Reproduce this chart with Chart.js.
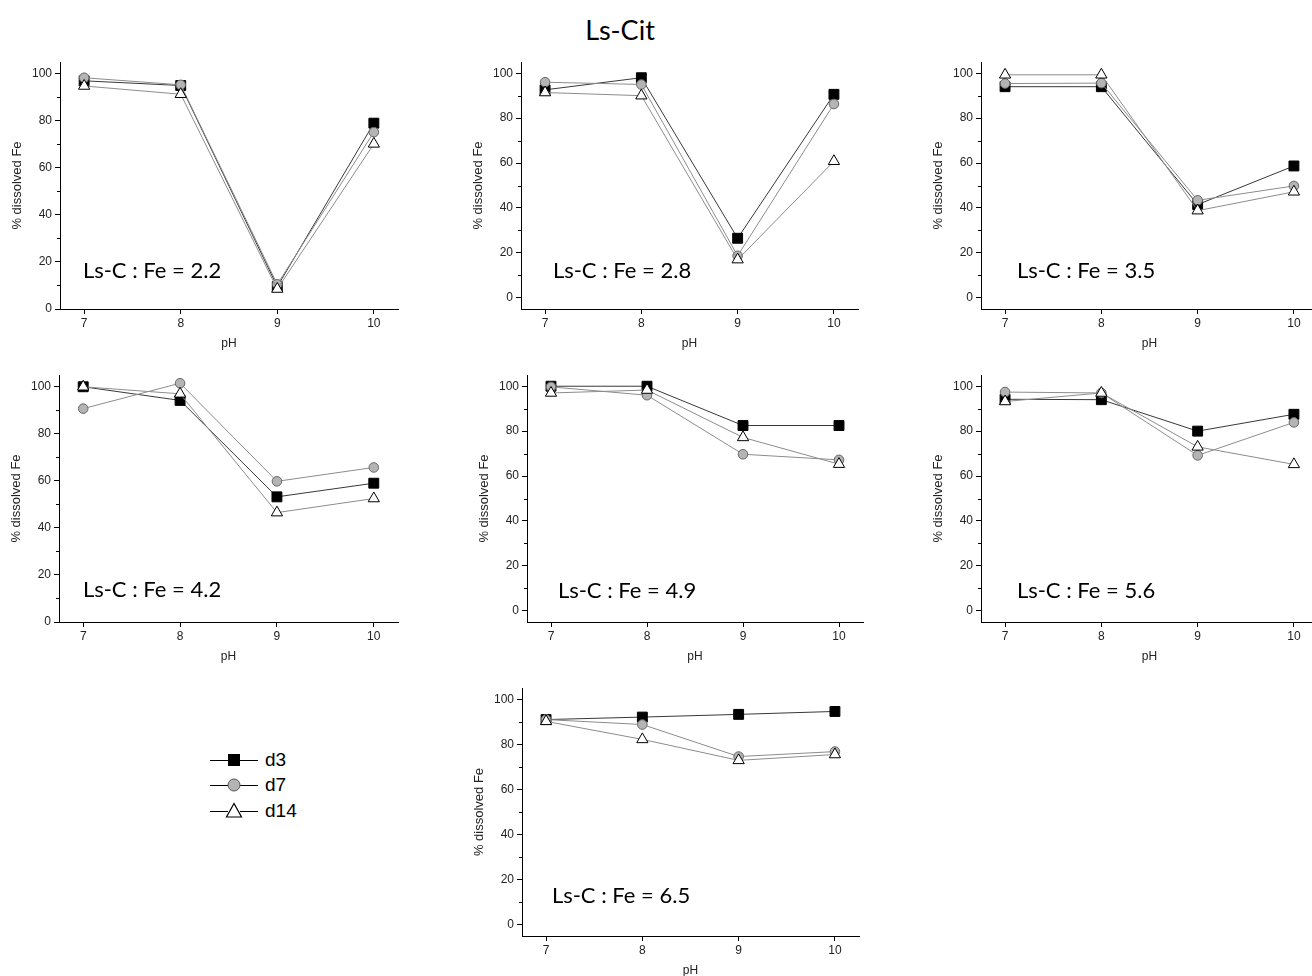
<!DOCTYPE html>
<html>
<head>
<meta charset="utf-8">
<title>Ls-Cit</title>
<script src="https://cdn.jsdelivr.net/npm/chart.js@4.4.0/dist/chart.umd.min.js"></script>
<style>
  html, body {
    margin: 0;
    padding: 0;
    background: #fff;
    width: 1312px;
    height: 976px;
    overflow: hidden;
    position: relative;
    font-family: "Liberation Sans", Arial, sans-serif;
  }
  #title {
    position: absolute;
    left: 0;
    width: 1240px;
    top: 13px;
    line-height: 32px;
    text-align: center;
    font: 27px Lato, sans-serif;
    color: #000;
  }
  canvas { position: absolute; }
  #legend { position: absolute; left: 209px; top: 747px; }
  #legend .row {
    display: flex;
    align-items: center;
    height: 25.5px;
    font: 19px "Liberation Sans", Arial, sans-serif;
    color: #000;
  }
  #legend svg { margin-right: 6px; }
</style>
</head>
<body>
<div id="title">Ls-Cit</div>
<div id="legend"></div>

<script>
/* ── Data ── */
const phValues = [7, 8, 9, 10];
const seriesNames = ["d3", "d7", "d14"];
const yTickValues = [0, 20, 40, 60, 80, 100];
const yMinorTicks = [10, 30, 50, 70, 90];
const ratioLabels = [
  "Ls-C : Fe = 2.2",
  "Ls-C : Fe = 2.8",
  "Ls-C : Fe = 3.5",
  "Ls-C : Fe = 4.2",
  "Ls-C : Fe = 4.9",
  "Ls-C : Fe = 5.6",
  "Ls-C : Fe = 6.5",
];

// % dissolved Fe at pH 7, 8, 9, 10
const fe22_d3 = [97, 95, 9.5, 79];
const fe22_d7 = [98.3, 95.3, 10.5, 75.2];
const fe22_d14 = [94.8, 91.3, 8.5, 70.2];

const fe28_d3 = [92.6, 98, 26.5, 90.6];
const fe28_d7 = [96, 95, 18.7, 86.3];
const fe28_d14 = [91.4, 90, 17, 60.8];

const fe35_d3 = [94, 94, 41.5, 58.7];
const fe35_d7 = [95.4, 95.6, 43.4, 49.8];
const fe35_d14 = [99.3, 99.3, 38.8, 47.2];

const fe42_d3 = [100, 94.2, 53.2, 59];
const fe42_d7 = [90.7, 101.5, 59.8, 65.7];
const fe42_d14 = [100, 97, 46.5, 52.5];

const fe49_d3 = [100, 100, 82.5, 82.5];
const fe49_d7 = [99.7, 96, 69.7, 67.2];
const fe49_d14 = [97, 98.3, 77.2, 65.3];

const fe56_d3 = [94.2, 94, 80, 87.5];
const fe56_d7 = [97.4, 97, 69.2, 83.9];
const fe56_d14 = [93.2, 97, 73, 65.2];

const fe65_d3 = [91, 92.1, 93.3, 94.6];
const fe65_d7 = [91, 88.8, 74.6, 76.8];
const fe65_d14 = [90.2, 82.2, 72.9, 75.5];

const panelSeries = [
  [fe22_d3, fe22_d7, fe22_d14],
  [fe28_d3, fe28_d7, fe28_d14],
  [fe35_d3, fe35_d7, fe35_d14],
  [fe42_d3, fe42_d7, fe42_d14],
  [fe49_d3, fe49_d7, fe49_d14],
  [fe56_d3, fe56_d7, fe56_d14],
  [fe65_d3, fe65_d7, fe65_d14],
];

/* ── Layout (page pixels of each plot area) ── */
const panels = [
  { left: 60, right: 398, top: 62, bottom: 309, yMin: 0, textX: 83, textY: 278 },
  { left: 521, right: 858, top: 62, bottom: 309, yMin: -5, textX: 553, textY: 278 },
  { left: 981, right: 1318, top: 62, bottom: 309, yMin: -5, textX: 1017, textY: 278 },
  { left: 59, right: 398, top: 375, bottom: 622, yMin: 0, textX: 83, textY: 597 },
  { left: 527, right: 863, top: 375, bottom: 622, yMin: -5, textX: 558, textY: 598 },
  { left: 981, right: 1318, top: 375, bottom: 622, yMin: -5, textX: 1017, textY: 598 },
  { left: 522, right: 859, top: 688, bottom: 936, yMin: -5, textX: 552, textY: 903 },
];

const Y_AXIS_W = 51,
  X_AXIS_H = 44,
  PAD_TOP = 12,
  PAD_RIGHT = 4;

// ── Marker styles per series ──
const styles = [
  { pointStyle: "rect", radius: 7, fill: "#000", edge: "#000", line: "#383838", order: 3 },
  { pointStyle: "circle", radius: 4.8, fill: "#b4b4b4", edge: "#666", line: "#8c8c8c", order: 2 },
  { pointStyle: "triangle", radius: 6.5, fill: "#fff", edge: "#000", line: "#8c8c8c", order: 1 },
];

const tickFont = { family: "'Liberation Sans', Arial, sans-serif", size: 12 };
const xTitleFont = { family: "'Liberation Sans', Arial, sans-serif", size: 12 };
const yTitleFont = { family: "'Liberation Sans', Arial, sans-serif", size: 13 };

// ── Plugins ──
const minorTicks = {
  id: "minorTicks",
  afterDraw(chart) {
    const y = chart.scales.y;
    const ctx = chart.ctx;
    ctx.save();
    ctx.strokeStyle = "#000";
    ctx.lineWidth = 1;
    yMinorTicks.forEach((v) => {
      const py = Math.round(y.getPixelForValue(v)) + 0.5;
      ctx.beginPath();
      ctx.moveTo(y.right - 3, py);
      ctx.lineTo(y.right, py);
      ctx.stroke();
    });
    ctx.restore();
  },
};

const ratioLabel = {
  id: "ratioLabel",
  afterDraw(chart, args, opts) {
    const ctx = chart.ctx;
    ctx.save();
    ctx.font = "22px Lato, sans-serif";
    ctx.fillStyle = "#000";
    ctx.textBaseline = "alphabetic";
    ctx.fillText(opts.text, opts.x, opts.y);
    ctx.restore();
  },
};

// ── Build the panels ──
panels.forEach((p, idx) => {
  const cLeft = p.left - Y_AXIS_W;
  const cTop = p.top - PAD_TOP;
  const w = p.right - p.left + Y_AXIS_W + PAD_RIGHT;
  const h = p.bottom - p.top + PAD_TOP + X_AXIS_H;

  const canvas = document.createElement("canvas");
  canvas.width = w;
  canvas.height = h;
  canvas.style.left = cLeft + "px";
  canvas.style.top = cTop + "px";
  canvas.style.width = w + "px";
  canvas.style.height = h + "px";
  document.body.appendChild(canvas);

  const datasets = panelSeries[idx].map((vals, s) => ({
    label: seriesNames[s],
    data: phValues.map((x, i) => ({ x, y: vals[i] })),
    borderColor: styles[s].line,
    borderWidth: 1,
    pointStyle: styles[s].pointStyle,
    pointRadius: styles[s].radius,
    pointBackgroundColor: styles[s].fill,
    pointBorderColor: styles[s].edge,
    pointBorderWidth: 1,
    tension: 0,
    fill: false,
    clip: false,
    order: styles[s].order,
  }));

  new Chart(canvas.getContext("2d"), {
    type: "line",
    data: { datasets },
    options: {
      responsive: false,
      animation: false,
      events: [],
      devicePixelRatio: 1,
      layout: {
        autoPadding: false,
        padding: { top: PAD_TOP, right: PAD_RIGHT, left: 0, bottom: 0 },
      },
      plugins: {
        legend: { display: false },
        tooltip: { enabled: false },
        ratioLabel: { text: ratioLabels[idx], x: p.textX - cLeft, y: p.textY - cTop },
      },
      scales: {
        x: {
          type: "linear",
          min: 6.75,
          max: 10.25,
          afterBuildTicks: (s) => {
            s.ticks = phValues.map((v) => ({ value: v }));
          },
          afterFit: (s) => {
            s.height = X_AXIS_H;
          },
          grid: { drawOnChartArea: false, drawTicks: true, tickLength: 5, tickColor: "#000" },
          border: { display: true, color: "#000", width: 1 },
          ticks: { color: "#222", font: tickFont, padding: 2, maxRotation: 0 },
          title: {
            display: true,
            text: "pH",
            color: "#222",
            font: xTitleFont,
            padding: { top: 0, bottom: 2 },
          },
        },
        y: {
          type: "linear",
          min: p.yMin,
          max: 105,
          afterBuildTicks: (s) => {
            s.ticks = yTickValues.map((v) => ({ value: v }));
          },
          afterFit: (s) => {
            s.width = Y_AXIS_W;
          },
          grid: { drawOnChartArea: false, drawTicks: true, tickLength: 5, tickColor: "#000" },
          border: { display: true, color: "#000", width: 1 },
          ticks: { color: "#222", font: tickFont, padding: 3 },
          title: {
            display: true,
            text: "% dissolved Fe",
            color: "#222",
            font: yTitleFont,
            padding: { top: 1, bottom: 0 },
          },
        },
      },
    },
    plugins: [minorTicks, ratioLabel],
  });
});

// ── Legend ──
const legendMarks = [
  '<rect x="19" y="4" width="12" height="12" fill="#000"/>',
  '<circle cx="25" cy="10" r="6" fill="#b4b4b4" stroke="#555" stroke-width="1"/>',
  '<polygon points="25,2.5 17.5,16 32.5,16" fill="#fff" stroke="#000" stroke-width="1.2"/>',
];
const legend = document.getElementById("legend");
seriesNames.forEach((name, s) => {
  const row = document.createElement("div");
  row.className = "row";
  row.innerHTML =
    '<svg width="50" height="20" viewBox="0 0 50 20">' +
    '<line x1="1" y1="10.5" x2="19" y2="10.5" stroke="#000" stroke-width="1"/>' +
    '<line x1="31" y1="10.5" x2="49" y2="10.5" stroke="#000" stroke-width="1"/>' +
    legendMarks[s] +
    "</svg><span>" + name + "</span>";
  legend.appendChild(row);
});
</script>
</body>
</html>
